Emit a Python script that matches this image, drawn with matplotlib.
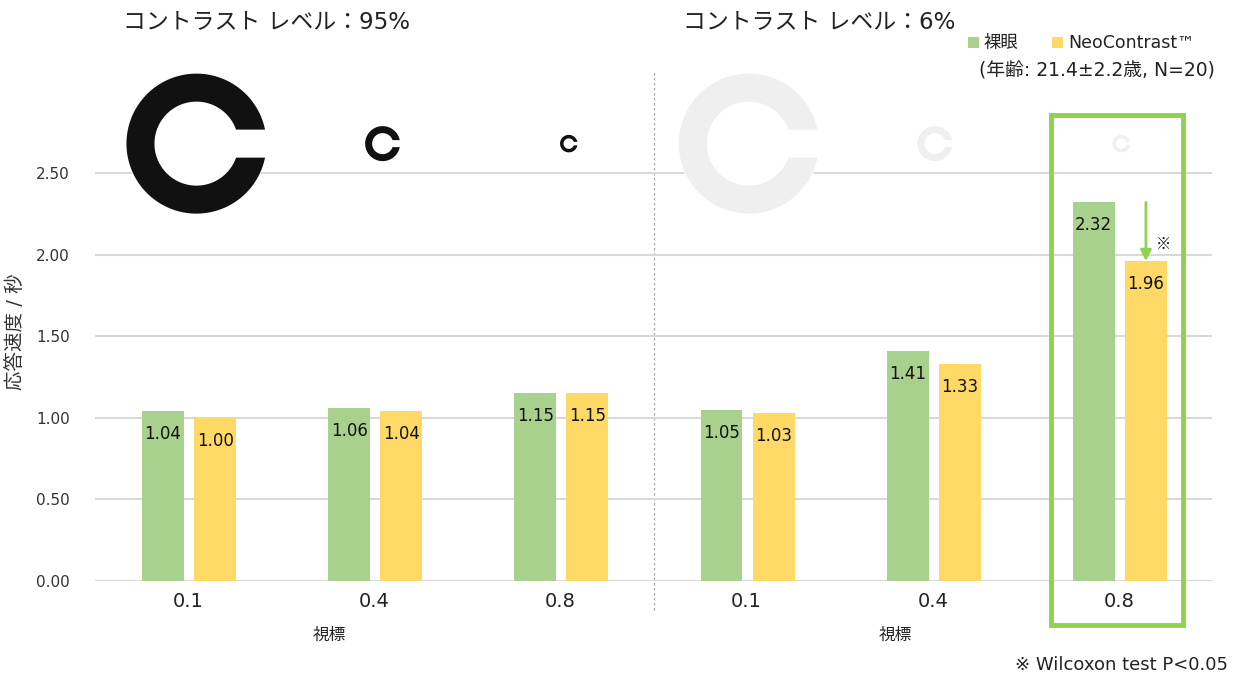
import matplotlib
matplotlib.use("Agg")
import matplotlib.pyplot as plt
import numpy as np
from matplotlib.patches import Polygon, Circle, Rectangle

plt.rcParams["font.family"] = ["DejaVu Sans", "Noto Sans CJK JP"]

# data
acuity_labels = ["0.1", "0.4", "0.8", "0.1", "0.4", "0.8"]
acuity_values = [0.1, 0.4, 0.8, 0.1, 0.4, 0.8]
naked_eye = [1.04, 1.06, 1.15, 1.05, 1.41, 2.32]
neocontrast = [1.00, 1.04, 1.15, 1.03, 1.33, 1.96]
contrast_titles = ["コントラスト レベル：95%", "コントラスト レベル：6%"]
series_names = ["裸眼", "NeoContrast™"]
legend_note = "(年齢: 21.4±2.2歳, N=20)"
footnote = "※ Wilcoxon test P<0.05"

GREEN = "#A9D18E"
YELLOW = "#FFD966"
BOX_GREEN = "#92D050"
TEXT = "#222222"
W, H = 1240, 677

fig = plt.figure(figsize=(W / 100, H / 100), dpi=100)
ax = fig.add_axes([95 / W, 1 - 581 / H, 1117 / W, 489.6 / H])

x = np.arange(len(acuity_labels))
bw = 0.225
b1 = ax.bar(x - 0.135, naked_eye, bw, color=GREEN, zorder=3)
b2 = ax.bar(x + 0.145, neocontrast, bw, color=YELLOW, zorder=3)

# value labels just inside the top of each bar
for bars, vals in ((b1, naked_eye), (b2, neocontrast)):
    for r, v in zip(bars, vals):
        ax.annotate(f"{v:.2f}", (r.get_x() + r.get_width() / 2, v),
                    xytext=(0, -10), textcoords="offset points",
                    ha="center", va="top", fontsize=12, color="#111111", zorder=4)

ax.set_xlim(-0.5, len(x) - 0.5)
ax.set_ylim(0, 3.0)
yt = np.arange(0, 2.51, 0.5)
ax.set_yticks(yt)
ax.set_yticklabels([f"{t:.2f}" for t in yt], fontsize=11, color="#333333")
ax.set_xticks(x)
ax.set_xticklabels(acuity_labels, fontsize=14, color=TEXT)
ax.tick_params(length=0, pad=8)
ax.tick_params(axis="y", pad=18)
ax.yaxis.grid(True, color="#D9D9D9", linewidth=1.5, zorder=0)
for s in ("top", "right", "left", "bottom"):
    ax.spines[s].set_visible(False)

ax.set_ylabel("応答速度 / 秒", fontsize=14, color="#333333")
ax.yaxis.set_label_coords(-0.063, 0.51)

# separator between the two contrast levels
ax.axvline(2.5, ymin=-0.06, ymax=1.04, color="#A6A6A6", linestyle=(0, (2, 2)),
           linewidth=0.9, clip_on=False, zorder=1)

# x group labels
for xc in (0.76, 3.80):
    ax.text(xc, -0.33, "視標", ha="center", va="center", fontsize=12, color=TEXT)

# highlight box around last group
ax.add_patch(Rectangle((4.635, -0.27), 0.71, 3.125, fill=False, edgecolor=BOX_GREEN,
                       linewidth=3.5, clip_on=False, zorder=5))

# arrow showing the reduction
ax.annotate("", xy=(5.145, neocontrast[5]), xytext=(5.145, naked_eye[5]),
            arrowprops=dict(arrowstyle="-|>", color=BOX_GREEN, lw=2, mutation_scale=16,
                            shrinkA=0, shrinkB=0), zorder=5)
ax.text(5.24, 2.06, "※", ha="center", va="center", fontsize=11, color="#111111",
        family=["Noto Sans CJK JP"])

# overlay in pixel coords for the Landolt rings
ov = fig.add_axes([0, 0, 1, 1], zorder=-1)
ov.set_xlim(0, W)
ov.set_ylim(0, H)
ov.axis("off")
ov.patch.set_alpha(0)


def landolt(cx, cy, r, color):
    t = 0.2 * r
    ri = r - 2 * t
    ao = np.arcsin(t / r)
    ai = np.arcsin(t / ri)
    outer = np.linspace(ao, 2 * np.pi - ao, 200)
    inner = np.linspace(2 * np.pi - ai, ai, 200)
    pts = np.concatenate([
        np.column_stack([cx + r * np.cos(outer), cy + r * np.sin(outer)]),
        np.column_stack([cx + ri * np.cos(inner), cy + ri * np.sin(inner)]),
    ])
    return Polygon(pts, closed=True, facecolor=color, edgecolor="none")


ring_colors = ["#111111"] * 3 + ["#EFEFEF"] * 3
ring_shift = [0.045] * 3 + [0.012] * 3
for i, (a, c, dx) in enumerate(zip(acuity_values, ring_colors, ring_shift)):
    px, py = ax.transData.transform((i + dx, 2.68))
    r = 7.0 / a
    fig.add_artist(Circle((px, py), r + 1, facecolor="white", edgecolor="none",
                          transform=ov.transData, zorder=2))
    p = landolt(px, py, r, c)
    p.set_transform(ov.transData)
    p.set_zorder(3)
    fig.add_artist(p)

# titles
fig.text(123 / W, 1 - 22 / H, contrast_titles[0], fontsize=16.5, color=TEXT, va="center", ha="left")
fig.text(683 / W, 1 - 22 / H, contrast_titles[1], fontsize=16.5, color=TEXT, va="center", ha="left")

# legend
for lx, col, name, tx in ((968, GREEN, series_names[0], 984), (1052, YELLOW, series_names[1], 1068)):
    fig.add_artist(Rectangle((lx / W, 1 - 48 / H), 11 / W, 11 / H, facecolor=col,
                             edgecolor="none", transform=fig.transFigure))
    fig.text(tx / W, 1 - 43 / H, name, fontsize=12.5, color=TEXT, va="center", ha="left")
fig.text(979 / W, 1 - 71 / H, legend_note, fontsize=13.5, color=TEXT, va="center", ha="left")

fig.text(1228 / W, 1 - 665 / H, footnote, fontsize=13, color=TEXT, va="center", ha="right")

fig.savefig("out.png", dpi=100, facecolor="white")
